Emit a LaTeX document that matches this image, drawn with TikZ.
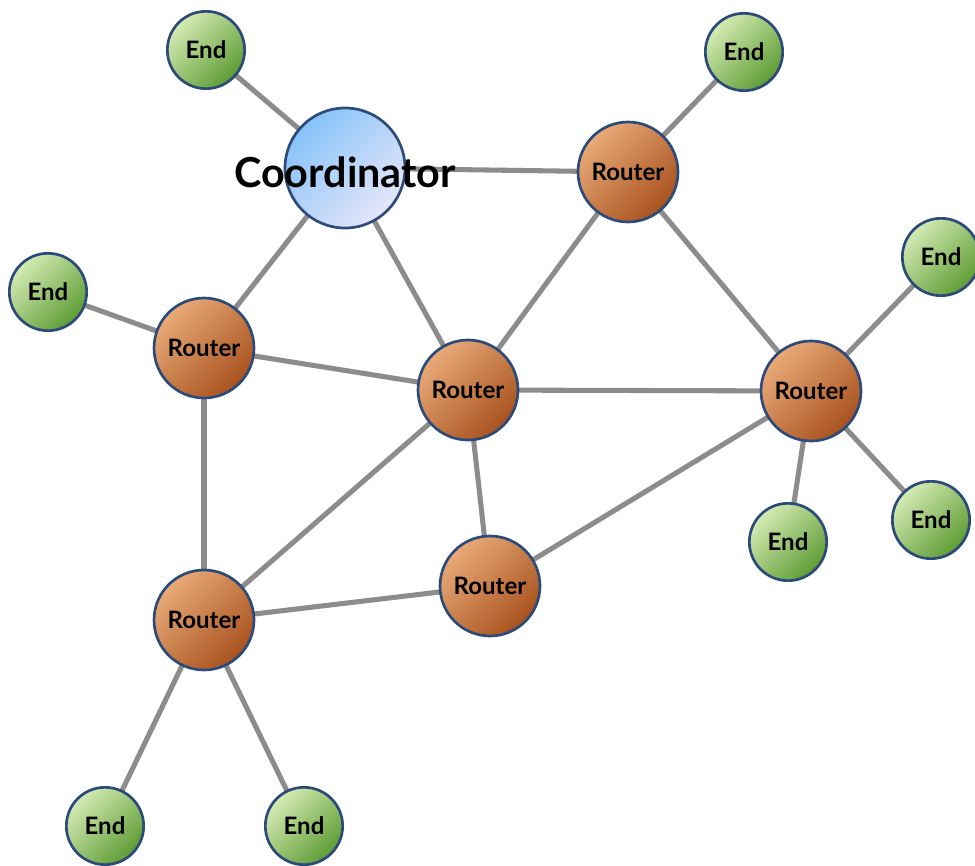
\documentclass[tikz,border=0pt]{standalone}
\usepackage{fontspec}
\setmainfont{Lato}
\usetikzlibrary{backgrounds}
\definecolor{edgegray}{HTML}{8C8C8C}
\definecolor{bordblue}{HTML}{2C4A7A}
\definecolor{endlight}{HTML}{D4EBB4}
\definecolor{enddark}{HTML}{5E9C34}
\definecolor{routlight}{HTML}{E8AA78}
\definecolor{routdark}{HTML}{A8521E}
\definecolor{coordlight}{HTML}{86C2F8}
\definecolor{coorddark}{HTML}{E6E6FA}
\begin{document}
\begin{tikzpicture}[x=0.75pt,y=-0.75pt,
  edge/.style={draw=edgegray, line width=3.8pt},
  ball/.style={circle, draw=bordblue, line width=2pt, inner sep=0pt},
  endnode/.style={ball, minimum size=58pt, top color=endlight, bottom color=enddark, shading angle=45,
     font=\bfseries\fontsize{18}{20}\selectfont},
  routnode/.style={ball, minimum size=75pt, top color=routlight, bottom color=routdark, shading angle=45,
     font=\bfseries\fontsize{18}{20}\selectfont},
  coordnode/.style={ball, minimum size=90pt, top color=coordlight, bottom color=coorddark, shading angle=45},
  coordtext/.style={font=\bfseries\fontsize{31}{36}\selectfont, inner sep=0pt}]
\useasboundingbox (0,0) rectangle (975,866);
% nodes
\node[coordnode] (C) at (345,168) {};
\node[routnode] (R1) at (628,172) {Router};
\node[routnode] (R2) at (204,348) {Router};
\node[routnode] (R3) at (468,390) {Router};
\node[routnode] (R4) at (811,391) {Router};
\node[routnode] (R5) at (490,586) {Router};
\node[routnode] (R6) at (204,620) {Router};
\node[endnode] (E1) at (206,50) {End};
\node[endnode] (E2) at (744,52) {End};
\node[endnode] (E3) at (941,257) {End};
\node[endnode] (E4) at (48,292) {End};
\node[endnode] (E5) at (788,542) {End};
\node[endnode] (E6) at (931,520) {End};
\node[endnode] (E7) at (105,826) {End};
\node[endnode] (E8) at (304,826) {End};
\node[coordtext] (CL) at (345,172) {Coordinator};
% edges
\begin{scope}[on background layer]
\draw[edge] (E1.center) -- (C.center);
\draw[edge] (C.center) -- (R1.center);
\draw[edge] (C.center) -- (R2.center);
\draw[edge] (C.center) -- (R3.center);
\draw[edge] (E2.center) -- (R1.center);
\draw[edge] (R1.center) -- (R3.center);
\draw[edge] (R1.center) -- (R4.center);
\draw[edge] (E4.center) -- (R2.center);
\draw[edge] (R2.center) -- (R3.center);
\draw[edge] (R2.center) -- (R6.center);
\draw[edge] (R3.center) -- (R4.center);
\draw[edge] (R3.center) -- (R6.center);
\draw[edge] (R3.center) -- (R5.center);
\draw[edge] (R4.center) -- (E3.center);
\draw[edge] (R4.center) -- (E5.center);
\draw[edge] (R4.center) -- (E6.center);
\draw[edge] (R4.center) -- (R5.center);
\draw[edge] (R5.center) -- (R6.center);
\draw[edge] (R6.center) -- (E7.center);
\draw[edge] (R6.center) -- (E8.center);
\end{scope}
\end{tikzpicture}
\end{document}
